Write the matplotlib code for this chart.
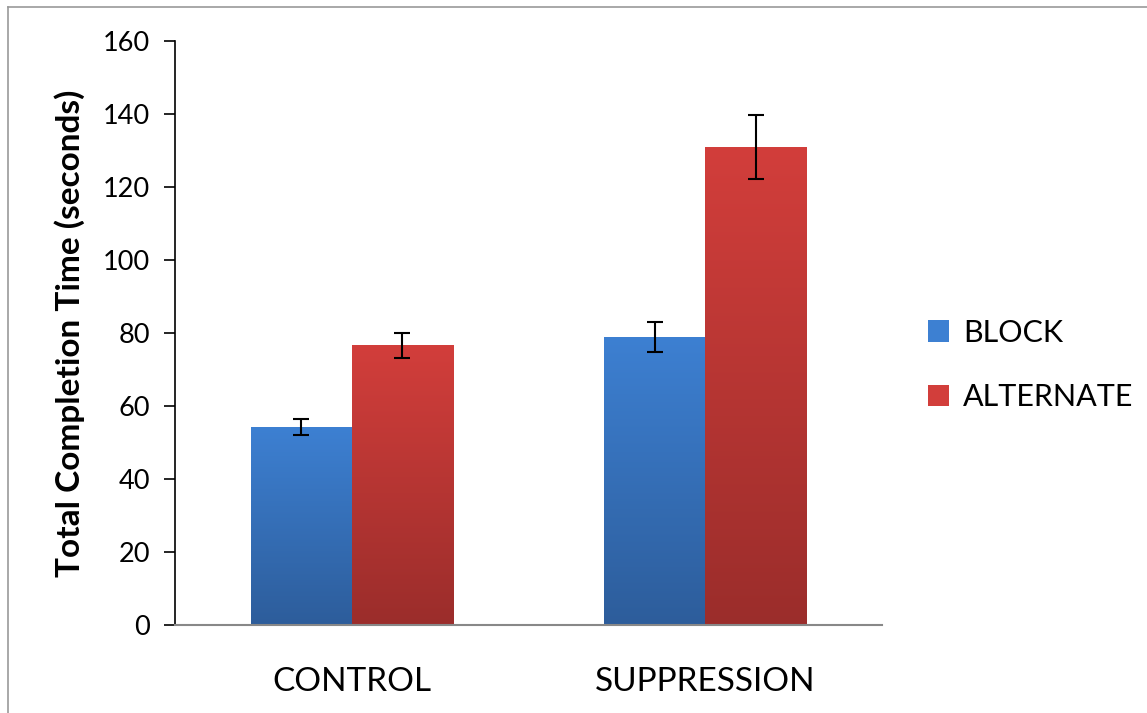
import numpy as np
import matplotlib.pyplot as plt
from matplotlib.colors import LinearSegmentedColormap
from matplotlib.lines import Line2D
from matplotlib.patches import Patch

categories = ['CONTROL', 'SUPPRESSION']
series = ['BLOCK', 'ALTERNATE']
block = [54.2, 79.0]
block_err = [2.2, 4.1]
alternate = [76.6, 130.9]
alternate_err = [3.5, 8.8]

plt.rcParams['font.family'] = ['Lato', 'DejaVu Sans']

fig = plt.figure(figsize=(11.47, 7.13), dpi=100)
ax = fig.add_axes([0.1526, 0.1234, 0.6164, 0.8191])

# gradient colors (top, bottom)
grads = {
    'BLOCK': ('#3d80d2', '#2d5d9b'),
    'ALTERNATE': ('#d23e3b', '#9b2d2b'),
}

x = np.arange(len(categories))
w = 0.286
vals = [block, alternate]
errs = [block_err, alternate_err]
grad = np.linspace(0, 1, 256).reshape(-1, 1)

for k, name in enumerate(series):
    pos = x + (k - 0.5) * w
    bars = ax.bar(pos, vals[k], w, color='none', edgecolor='none', zorder=2)
    cmap = LinearSegmentedColormap.from_list(name, [grads[name][1], grads[name][0]])
    for b in bars:
        x0, y0 = b.get_x(), b.get_y()
        im = ax.imshow(grad, cmap=cmap, aspect='auto', origin='lower',
                       extent=[x0, x0 + b.get_width(), y0, y0 + b.get_height()],
                       zorder=2)
        im.set_clip_path(b)
    ax.errorbar(pos, vals[k], yerr=errs[k], fmt='none', ecolor='black',
                elinewidth=1.5, capsize=6, capthick=1.5, zorder=3)

ax.set_xlim(-0.5, 1.5)
ax.set_ylim(0, 160)
ax.set_yticks(range(0, 161, 20))
ax.set_xticks(x)
ax.set_xticklabels(categories, fontsize=24)
ax.tick_params(axis='x', length=0, pad=30)
ax.tick_params(axis='y', length=8, width=1.2, labelsize=19.5, pad=10)
ax.set_ylabel('Total Completion Time (seconds)', fontsize=24, fontweight='bold', labelpad=13)

for s in ['top', 'right']:
    ax.spines[s].set_visible(False)
ax.spines['left'].set_linewidth(1.2)
ax.spines['bottom'].set_color('#888888')
ax.spines['bottom'].set_linewidth(1.5)

handles = [Patch(facecolor=grads[n][0], edgecolor='none') for n in series]
fig.legend(handles, series, loc='center left', bbox_to_anchor=(0.785, 0.488),
           frameon=False, fontsize=22, handlelength=0.7, handleheight=0.7,
           handletextpad=0.45, labelspacing=1.2)

# outer chart border
fig.add_artist(Line2D([8 / 1147, 8 / 1147], [0, 1 - 7 / 713], color='#999999', lw=1.2))
fig.add_artist(Line2D([8 / 1147, 1], [1 - 7 / 713, 1 - 7 / 713], color='#999999', lw=1.2))

fig.savefig('out.png', dpi=100)
